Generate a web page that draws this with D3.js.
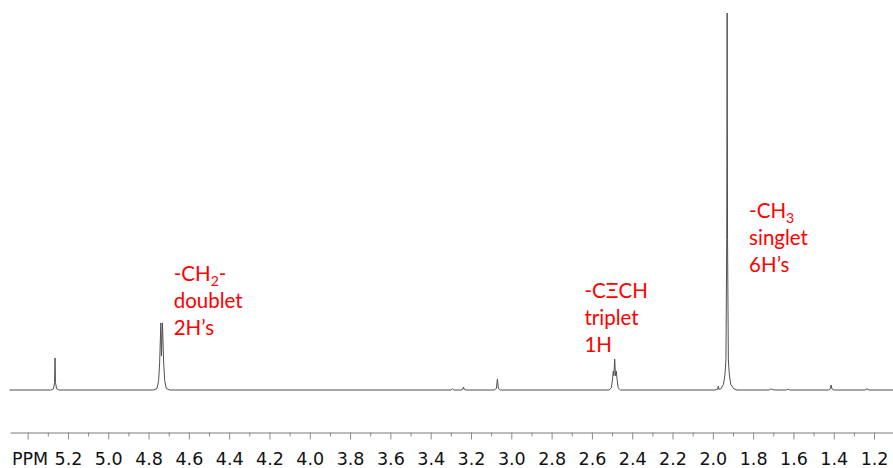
<!DOCTYPE html>
<html>
<head>
<meta charset="utf-8">
<script src="https://cdn.jsdelivr.net/npm/d3@7"></script>
<style>
html,body{margin:0;padding:0;background:#fff;}
svg{display:block;}
</style>
</head>
<body>
<svg id="chart" width="893" height="468"></svg>
<script>
// ---- data (ppm, relative intensity) ----
const baselineEnds = [[5.49, 0], [1.10, 0]];
const peakVinyl = [[5.285, 0], [5.272, 0.3], [5.266, 2], [5.264, 8.5], [5.262, 2], [5.256, 0.3], [5.245, 0]];
const peakCH2 = [[4.775, 0], [4.758, 0.4], [4.750, 2.5], [4.745, 7.2], [4.739, 17.8], [4.736, 9], [4.731, 17.8], [4.725, 7.2], [4.720, 2.5], [4.712, 0.4], [4.695, 0]];
const peakSmall1 = [[3.300, 0], [3.292, 0.3], [3.285, 0]];
const peakSmall2 = [[3.250, 0], [3.240, 0.2], [3.237, 0.8], [3.234, 0.2], [3.225, 0]];
const peakSmall3 = [[3.085, 0], [3.074, 0.4], [3.069, 2.9], [3.064, 0.4], [3.055, 0]];
const peakCCH = [[2.515, 0], [2.503, 0.6], [2.497, 3.3], [2.494, 5.0], [2.491, 3.8], [2.487, 8.2], [2.483, 3.8], [2.479, 5.0], [2.476, 3.3], [2.470, 0.6], [2.458, 0]];
const peakCH3 = [[1.990, 0], [1.976, 0.2], [1.973, 1.0], [1.970, 0.2], [1.960, 0.3], [1.947, 1.5], [1.940, 4], [1.935, 8], [1.931, 40], [1.929, 100], [1.927, 40], [1.923, 8], [1.918, 4], [1.911, 1.5], [1.895, 0.3], [1.880, 0]];
const peakSmall4 = [[1.720, 0], [1.712, 0.3], [1.705, 0.1], [1.690, 0]];
const peakSmall5 = [[1.635, 0], [1.626, 0.2], [1.618, 0]];
const peakSmall6 = [[1.425, 0], [1.417, 0.3], [1.413, 1.3], [1.409, 0.3], [1.400, 0]];
const peakSmall7 = [[1.245, 0], [1.235, 0.3], [1.225, 0]];

const majorTickLabels = ["5.4", "5.2", "5.0", "4.8", "4.6", "4.4", "4.2", "4.0", "3.8", "3.6", "3.4", "3.2", "3.0", "2.8", "2.6", "2.4", "2.2", "2.0", "1.8", "1.6", "1.4", "1.2"];
const minorTickValues = [5.3, 5.1, 4.9, 4.7, 4.5, 4.3, 4.1, 3.9, 3.7, 3.5, 3.3, 3.1, 2.9, 2.7, 2.5, 2.3, 2.1, 1.9, 1.7, 1.5, 1.3];
const hiddenLabels = ["5.4"];

const annotations = [
  {lines: [["-CH", "2", "-"], ["doublet"], ["2H\u2019s"]], ppm: 4.675, top: 281},
  {lines: [["-C\u039ECH"], ["triplet"], ["1H"]], ppm: 2.637, top: 298},
  {lines: [["-CH", "3", ""], ["singlet"], ["6H\u2019s"]], ppm: 1.82, top: 218}
];

// ---- drawing ----
const svg = d3.select("#chart");
const x = d3.scaleLinear().domain([5.4875, 1.106]).range([10, 893]);
const y = d3.scaleLinear().domain([0, 100]).range([390, 13]);

const spectrum = [].concat(baselineEnds.slice(0,1), peakVinyl, peakCH2, peakSmall1, peakSmall2, peakSmall3,
  peakCCH, peakCH3, peakSmall4, peakSmall5, peakSmall6, peakSmall7, baselineEnds.slice(1))
  .sort((a, b) => b[0] - a[0]);

svg.append("path")
  .datum(spectrum)
  .attr("fill", "none")
  .attr("stroke", "#505050")
  .attr("stroke-width", 1)
  .attr("d", d3.line().x(d => x(d[0])).y(d => y(d[1])));

// axis
const axisY = 432.5;
const majorVals = majorTickLabels.map(Number);
const gAxis = svg.append("g").attr("transform", `translate(0,${axisY})`)
  .call(d3.axisBottom(x).tickValues(majorVals).tickSize(7).tickSizeOuter(0)
    .tickFormat(d => { const s = d.toFixed(1); return hiddenLabels.includes(s) ? "" : s; }));
gAxis.select(".domain").attr("stroke", "#7a7a7a");
gAxis.selectAll(".tick line").attr("stroke", "#8a8a8a");
gAxis.selectAll(".tick text")
  .attr("y", 32).attr("dy", 0)
  .attr("font-family", "DejaVu Sans, Verdana, sans-serif")
  .attr("font-size", 17.5)
  .attr("fill", "#111");
const gMinor = svg.append("g").attr("transform", `translate(0,${axisY})`)
  .call(d3.axisBottom(x).tickValues(minorTickValues).tickSize(4).tickFormat(""));
gMinor.select(".domain").remove();
gMinor.selectAll(".tick line").attr("stroke", "#8a8a8a");

svg.append("text")
  .attr("x", 12).attr("y", axisY + 32)
  .attr("font-family", "DejaVu Sans, Verdana, sans-serif")
  .attr("font-size", 17.5)
  .attr("fill", "#111")
  .text("PPM");

// annotations
annotations.forEach(a => {
  const t = svg.append("text")
    .attr("font-family", "Lato, 'Open Sans', sans-serif")
    .attr("font-size", 20.5)
    .attr("fill", "#ff0000");
  a.lines.forEach((ln, i) => {
    const yy = a.top + i * 27;
    t.append("tspan").attr("x", x(a.ppm)).attr("y", yy).text(ln[0]);
    if (ln.length > 1) {
      t.append("tspan").attr("y", yy + 5).attr("font-size", 14).text(ln[1]);
      t.append("tspan").attr("y", yy).text(ln[2]);
    }
  });
});
</script>
</body>
</html>
